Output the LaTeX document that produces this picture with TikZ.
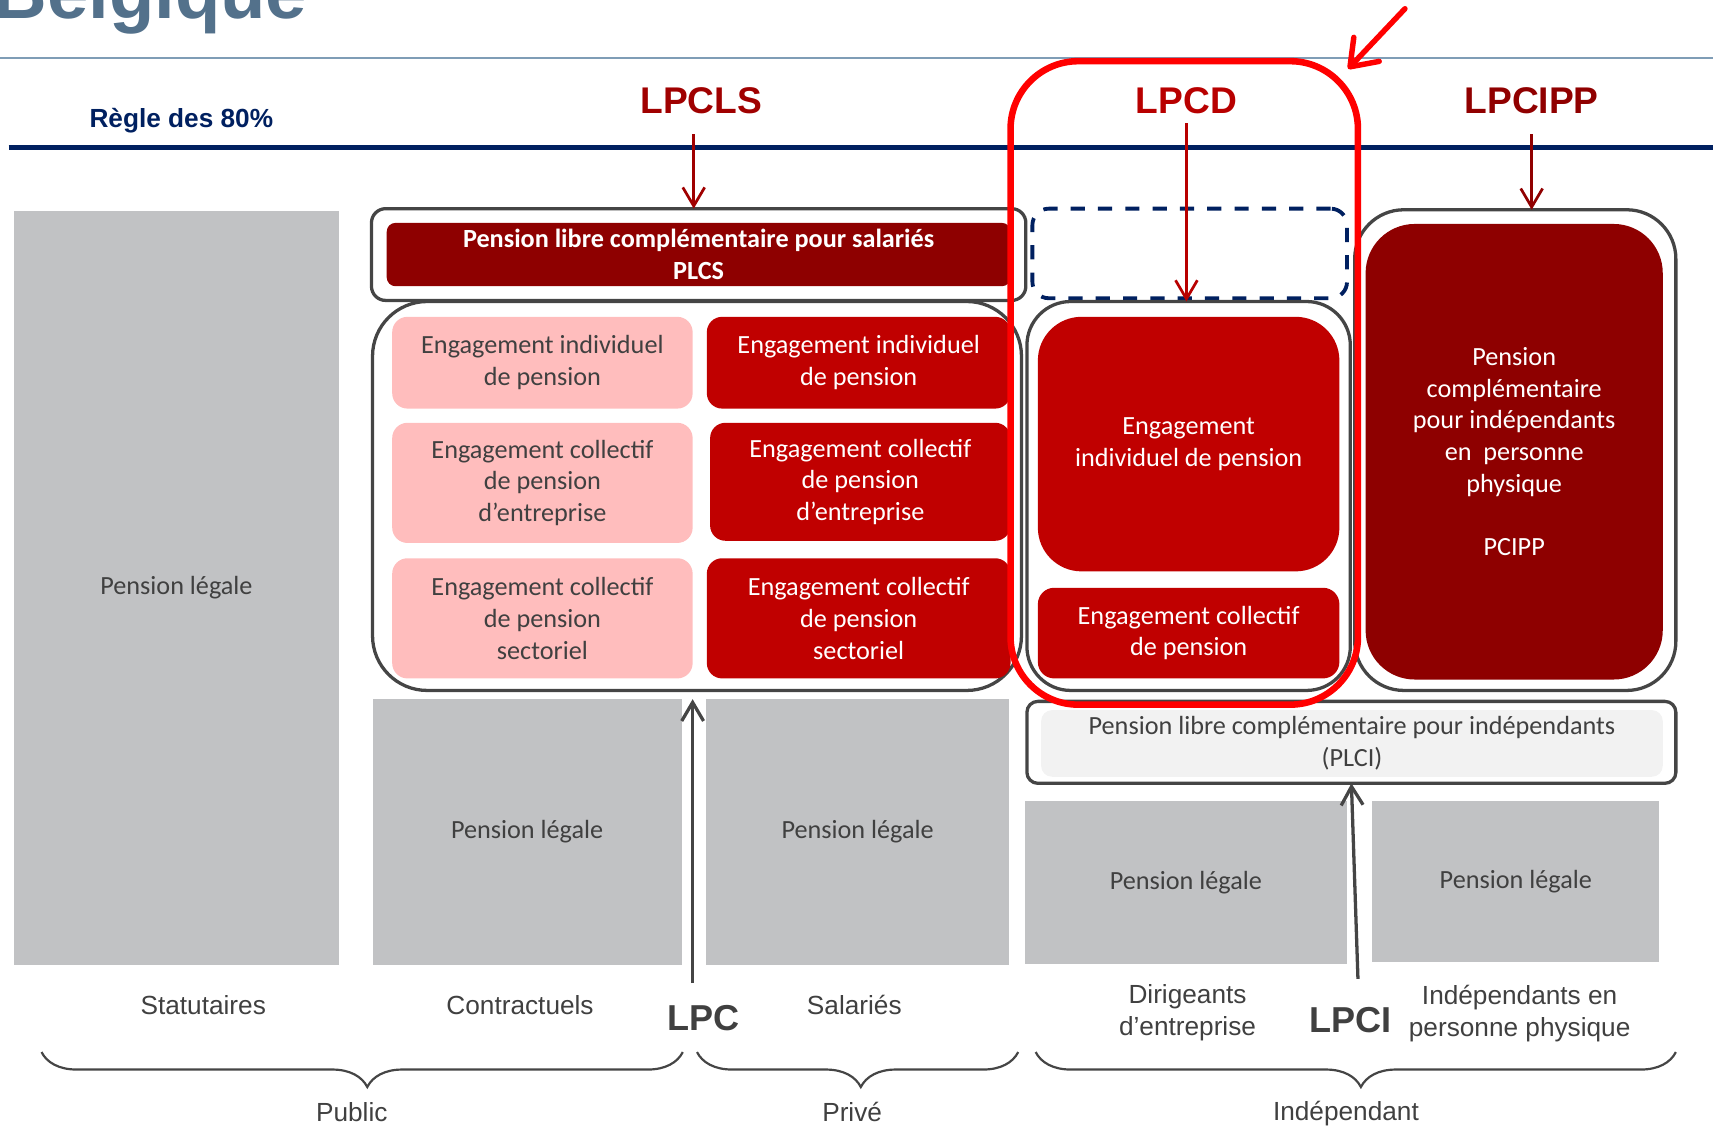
\documentclass[tikz,border=0pt]{standalone}
\usepackage{fontspec}
\setmainfont{Carlito}
\newfontfamily\arialf{Liberation Sans}
\usetikzlibrary{arrows.meta,decorations.pathreplacing}
\definecolor{titlecol}{HTML}{53718B}
\definecolor{thinline}{HTML}{7F9DB6}
\definecolor{navy}{HTML}{002060}
\definecolor{outl}{HTML}{454545}
\definecolor{txtgray}{HTML}{404040}
\definecolor{pinkc}{HTML}{FFBDBD}
\definecolor{redc}{HTML}{C00000}
\definecolor{dredc}{HTML}{8E0000}
\definecolor{legalc}{HTML}{C1C2C4}
\definecolor{plcic}{HTML}{F2F2F2}
\definecolor{hred}{HTML}{FF0000}
\definecolor{lawred}{HTML}{A00000}
\definecolor{lawredb}{HTML}{B80000}
\definecolor{lawredc}{HTML}{900000}
\newcommand\fsbox{\fontsize{24}{29}\selectfont}
\newcommand\fslab{\arialf\fontsize{24}{29}\selectfont}
\newcommand\fslaw{\arialf\bfseries\fontsize{34}{40}\selectfont}
% #1 name, #2 style, #3 x1, #4 y1, #5 x2, #6 y2, #7 text
\newcommand\placebox[7]{%
  \pgfmathsetmacro\mybcx{(#3+#5)/2}%
  \pgfmathsetmacro\mybcy{(#4+#6)/2}%
  \pgfmathsetmacro\mybw{#5-#3}%
  \pgfmathsetmacro\mybh{#6-#4}%
  \node[#2, minimum width=\mybw pt, minimum height=\mybh pt] (#1) at (\mybcx,\mybcy) {#7};}
\begin{document}
\begin{tikzpicture}[x=1pt,y=-1pt,
  every node/.style={inner sep=0pt,outer sep=0pt},
  btext/.style={font=\fsbox, align=center},
  outlinebox/.style={draw=outl, line width=3pt, rounded corners=#1},
  legalbox/.style={fill=legalc, btext, text=txtgray},
  pinkbox/.style={fill=pinkc, rounded corners=14pt, btext, text=txtgray},
  redbox/.style={fill=redc, rounded corners=#1, btext, text=white},
  dredbox/.style={fill=dredc, rounded corners=#1, btext, text=white},
  labtext/.style={font=\fslab, align=center, text=txtgray},
  lawtext/.style={font=\fslaw},
  lawarrow/.style={draw=#1, line width=2.5pt, -{Straight Barb[length=17pt,width=20pt]}},
  grayarrow/.style={draw=outl, line width=3pt, -{Straight Barb[length=17pt,width=20pt]}},
  bracestyle/.style={draw=outl, line width=2pt, decorate, decoration={brace, mirror, amplitude=32pt, aspect=#1}},
]
\useasboundingbox (0,0) rectangle (1568,1032);
\clip (0,0) rectangle (1568,1032);

% title and rules
\node[anchor=base west, font=\arialf\bfseries\fontsize{68}{72}\selectfont, text=titlecol] (title) at (-6,17) {Belgique};
\draw[thinline, line width=2pt] (0,53) -- (1568,53);
\draw[navy, line width=4pt] (8,135) -- (1568,135);
\node[font=\arialf\bfseries\fontsize{24}{28}\selectfont, text=navy] (regle) at (166,110) {Règle des 80\%};

% law names
\node[lawtext, text=lawred] (lpcls) at (642,92) {LPCLS};
\node[lawtext, text=lawredb] (lpcd) at (1086,92) {LPCD};
\node[lawtext, text=lawredc] (lpcipp) at (1402,92) {LPCIPP};

% public statutaires
\placebox{legal1}{legalbox}{13}{193}{310}{883}{Pension légale}

% PLCS
\placebox{plcsouter}{outlinebox=13pt}{340}{191}{939}{275}{}
\placebox{plcs}{dredbox=8pt, font=\fsbox\bfseries}{354}{204}{925}{262}{Pension libre complémentaire pour salariés\\PLCS}

% LPC block
\placebox{lpcbox}{outlinebox=50pt}{341}{276}{935}{632}{}
\placebox{pink1}{pinkbox}{359}{290}{634}{374}{Engagement individuel\\de pension}
\placebox{pink2}{pinkbox}{359}{387}{634}{497}{Engagement collectif\\de pension\\d’entreprise}
\placebox{pink3}{pinkbox}{359}{511}{634}{621}{Engagement collectif\\de pension\\sectoriel}
\placebox{red1}{redbox=14pt}{647}{290}{925}{374}{Engagement individuel\\de pension}
\placebox{red2}{redbox=14pt}{650}{387}{925}{495}{Engagement collectif\\de pension\\d’entreprise}
\placebox{red3}{redbox=14pt}{647}{511}{925}{621}{Engagement collectif\\de pension\\sectoriel}

\placebox{legal2}{legalbox}{341}{640}{624}{883}{Pension légale}
\placebox{legal3}{legalbox}{646}{640}{924}{883}{Pension légale}

% LPCD block
\placebox{dashbox}{draw=navy, line width=3.5pt, dash pattern=on 13pt off 12pt, rounded corners=15pt}{945}{191}{1233}{273}{}
\placebox{lpcdbox}{outlinebox=40pt}{940}{276}{1236}{632}{}
\placebox{eip}{redbox=40pt}{950}{290}{1226}{523}{Engagement\\individuel de pension}
\placebox{ecp}{redbox=15pt}{950}{538}{1226}{621}{Engagement collectif\\de pension}

% PCIPP block
\placebox{pcippouter}{outlinebox=45pt}{1240}{192}{1534}{632}{}
\placebox{pcipp}{dredbox=45pt}{1250}{205}{1522}{622}{Pension\\complémentaire\\pour indépendants\\en~ personne\\physique\\[29pt]PCIPP}

% PLCI
\placebox{plciouter}{outlinebox=10pt}{940}{642}{1534}{717}{}
\placebox{plci}{fill=plcic, rounded corners=10pt, btext, text=txtgray}{953}{650}{1522}{711}{Pension libre complémentaire pour indépendants\\(PLCI)}

\placebox{legal4}{legalbox}{938}{733}{1233}{882}{Pension légale}
\placebox{legal5}{legalbox}{1256}{733}{1519}{881}{Pension légale}

% arrows from laws
\coordinate (a1) at (635,123);
\draw[lawarrow=lawred] (a1) -- (a1 |- plcsouter.north);
\coordinate (a2) at (1086,113);
\draw[lawarrow=lawredb] (a2) -- (a2 |- lpcdbox.north);
\coordinate (a3) at (1402,123);
\draw[lawarrow=lawredc] (a3) -- (a3 |- pcippouter.north);

% bottom labels
\node[labtext] (statut) at (186,920) {Statutaires};
\node[labtext] (contract) at (476,920) {Contractuels};
\node[labtext] (salaries) at (782,920) {Salariés};
\node[labtext] (dirig) at (1087,927) {Dirigeants\\d’entreprise};
\node[labtext] (indpp) at (1391,928) {Indépendants en\\personne physique};
\node[font=\arialf\bfseries\fontsize{33}{38}\selectfont, text=txtgray] (lpc) at (644,932) {LPC};
\node[font=\arialf\bfseries\fontsize{33}{38}\selectfont, text=txtgray] (lpci) at (1236,934) {LPCI};

\coordinate (lpcfoot) at (634,900);
\draw[grayarrow] (lpcfoot) -- (lpcfoot |- legal2.north);
\coordinate (lpcifoot) at (1243,896);
\draw[grayarrow] (lpcifoot) -- (plciouter.south);

% braces
\coordinate (pubL) at (38,963);
\coordinate (pubR) at (625,963);
\coordinate (priL) at (638,963);
\coordinate (priR) at (932,963);
\coordinate (indL) at (948,963);
\coordinate (indR) at (1534,963);
\draw[bracestyle=0.508] (pubL) -- (pubR);
\draw[bracestyle=0.51] (priL) -- (priR);
\draw[bracestyle=0.508] (indL) -- (indR);
\node[labtext] (public) at (322,1018) {Public};
\node[labtext] (prive) at (780,1018) {Privé};
\node[labtext] (indep) at (1232,1019) {Indépendant};

% highlight
\placebox{hl}{draw=hred, line width=6pt, rounded corners=62pt}{925}{56}{1243}{645}{}
\coordinate (redtail) at (1286,8);
\coordinate (redtip) at (1234,63);
\draw[draw=hred, line width=5pt, line cap=round, -{Straight Barb[length=22pt,width=32pt,round]}] (redtail) -- (redtip);
\end{tikzpicture}
\end{document}
